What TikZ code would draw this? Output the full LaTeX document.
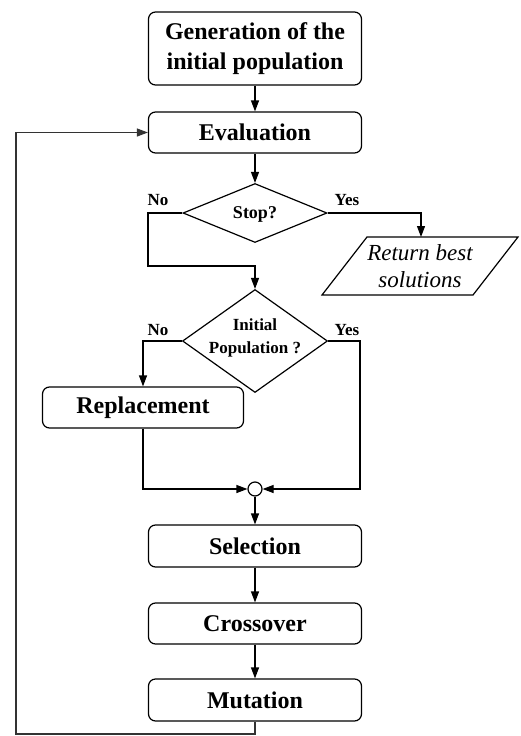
\documentclass[tikz,border=0pt]{standalone}
\usepackage{fontspec}
\setmainfont{Liberation Serif}
\usetikzlibrary{arrows.meta,shapes.geometric}
\begin{document}
\begin{tikzpicture}[x=1pt,y=-1pt,
  every path/.style={line width=1.2pt},
  procbox/.style={draw,rounded corners=7pt,minimum width=213pt,inner sep=0pt,font=\fontsize{24}{30}\selectfont\bfseries,align=center},
  decide/.style={draw,diamond,inner sep=0pt},
  lbl/.style={font=\fontsize{17}{20}\selectfont\bfseries,inner sep=0pt},
  arr/.style={-{Triangle[length=11pt,width=8pt]}},
  ln/.style={line width=1.2pt}]
\useasboundingbox (0,0) rectangle (521,736);
% nodes
\node[procbox,minimum height=73pt] (gen) at (255,48.5) {Generation of the\\initial population};
\node[procbox,minimum height=41pt] (eval) at (255,132.5) {Evaluation};
\node[decide,minimum width=144pt,minimum height=59pt] (stop) at (255,213) {};
\node[font=\fontsize{18}{20}\selectfont\bfseries] (stoptxt) at (255,214) {Stop?};
\node[decide,minimum width=145pt,minimum height=103pt] (init) at (255,341) {};
\node[font=\fontsize{17}{23}\selectfont\bfseries,align=center] (inittxt) at (255,338) {Initial\\Population ?};
\node[procbox,minimum width=201pt,minimum height=41pt] (repl) at (143,407.5) {Replacement};
\node[draw,circle,minimum size=14pt,inner sep=0pt] (circ) at (255,489) {};
\node[procbox,minimum height=42pt] (sel) at (255,546) {Selection};
\node[procbox,minimum height=41pt] (cross) at (255,623.5) {Crossover};
\node[procbox,minimum height=42pt] (mut) at (255,700) {Mutation};
% parallelogram
\draw (367,237) -- (518,237) -- (473,295) -- (322,295) -- cycle;
\coordinate (ret) at (421,237);
\node[font=\fontsize{23}{27}\selectfont\itshape,align=center] (rettxt) at (420,266) {Return best\\solutions};
% labels
\node[lbl] (no1) at (158,200) {No};
\node[lbl] (yes1) at (347,200) {Yes};
\node[lbl] (no2) at (158,330) {No};
\node[lbl] (yes2) at (347,330) {Yes};
% helper coordinates
\coordinate (nb) at (148,266);
\coordinate (yj) at (360,489);
\coordinate (lb) at (16,734);
% connectors
\draw[arr] (gen.south) -- (eval.north);
\draw[arr] (eval.south) -- (stop.north);
\draw[arr] (stop.east) -| (ret);
\draw[arr] (stop.west) -| (nb) -| (init.north);
\draw[arr] (init.west) -| (repl.north);
\draw[arr] (init.east) -| (yj) -- (circ.east);
\draw[arr] (repl.south) |- (circ.west);
\draw[arr] (circ.south) -- (sel.north);
\draw[arr] (sel.south) -- (cross.north);
\draw[arr] (cross.south) -- (mut.north);
\draw[arr,black!80] (mut.south) |- (lb) |- (eval.west);
\end{tikzpicture}
\end{document}
